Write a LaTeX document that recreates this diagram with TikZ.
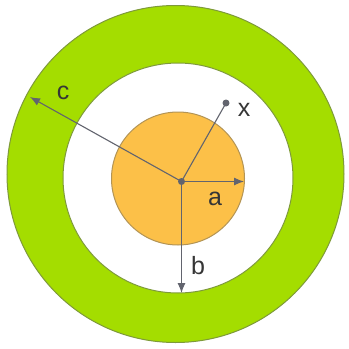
\documentclass[tikz,border=0pt]{standalone}
\usepackage{fontspec}
\setmainfont{Liberation Sans}
\usetikzlibrary{arrows.meta}
\definecolor{ringgreen}{HTML}{A4DD00}
\definecolor{ringedge}{HTML}{7E9A3A}
\definecolor{coreorange}{HTML}{FCC048}
\definecolor{coreedge}{HTML}{B39455}
\definecolor{linegray}{HTML}{62646E}
\definecolor{txt}{HTML}{363636}
\tikzset{
  radline/.style={draw=linegray, line width=1.1pt},
  radarrow/.style={radline, -{Latex[length=10pt,width=8pt]}},
  lbl/.style={text=txt, font=\fontsize{25}{25}\selectfont, inner sep=0pt},
}
\begin{document}
\begin{tikzpicture}[x=1pt,y=-1pt]
\useasboundingbox (0,0) rectangle (349,349);
\fill[white] (0,0) rectangle (349,349);
% outer green ring
\fill[ringgreen, draw=ringedge, line width=1pt] (175.5,174) circle (168.5);
\fill[white, draw=ringedge, line width=1pt] (178,178) circle (115);
% orange core
\fill[coreorange, draw=coreedge, line width=1pt] (178,178.5) circle (66.5);
% points
\coordinate (o) at (181.5,181.5);
\coordinate (aend) at (244,181.5);
\coordinate (bend) at (181.5,293);
\coordinate (cend) at (30,97);
\node[circle, fill=linegray, inner sep=0pt, minimum size=7pt] (xp) at (226,103) {};
\draw[radline] (o) -- (xp.center);
\draw[radarrow] (o) -- (aend);
\draw[radarrow] (o) -- (bend);
\draw[radarrow] (o) -- (cend);
\node[circle, fill=linegray, inner sep=0pt, minimum size=7pt] (center) at (o) {};
% labels
\node[lbl] (la) at (215,199) {a};
\node[lbl] (lb) at (198,266) {b};
\node[lbl] (lc) at (63,93) {c};
\node[lbl] (lx) at (244,110) {x};
\end{tikzpicture}
\end{document}
